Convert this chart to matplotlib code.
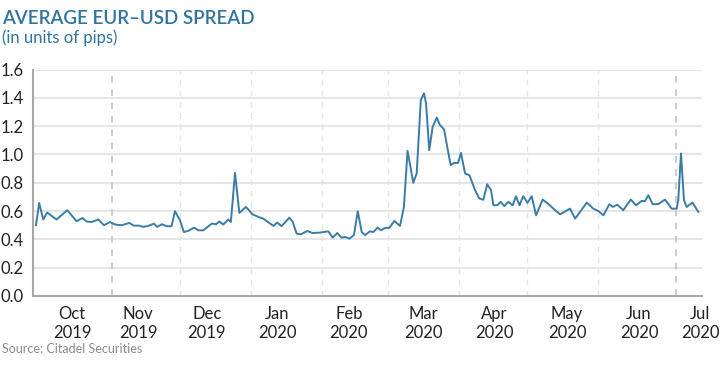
import numpy as np
import pandas as pd
import matplotlib.pyplot as plt
import matplotlib.transforms as mtransforms

# days since 2019-10-01 and spread values (pips)
days = [-2.3, -0.9, 0.9, 2.6, 6.7, 11.4, 15.5, 18.1, 19.9, 22.1, 25.0, 27.5, 30.1,
        32.3, 35.2, 38.6, 40.6, 42.9, 44.7, 46.9, 49.4, 50.8, 52.9, 55.0, 57.1,
        58.6, 60.8, 62.5, 64.4, 67.0, 68.8, 71.0, 74.7, 76.6, 78.0, 79.8, 81.9,
        83.1, 84.9, 86.8, 89.7, 92.6, 95.8, 97.3, 99.9, 101.7, 103.4, 105.3,
        108.7, 110.2, 111.9, 113.7, 116.6, 118.9, 122.1, 125.8, 127.7, 129.7,
        131.6, 133.1, 135.0, 137.0, 138.7, 140.4, 141.9, 144.0, 145.5, 147.4,
        148.9, 150.6, 152.5, 154.7, 157.2, 158.9, 160.5, 163.0, 164.5, 166.3,
        167.7, 168.6, 170.0, 171.5, 173.3, 174.7, 176.5, 177.6, 179.4, 180.8,
        182.6, 183.9, 185.7, 187.6, 190.1, 191.9, 193.7, 195.4, 197.1, 198.1,
        199.8, 201.3, 202.9, 204.6, 206.6, 208.0, 209.5, 211.2, 213.0, 214.9,
        216.8, 219.7, 222.2, 224.4, 227.3, 231.7, 233.9, 236.1, 239.0, 241.9,
        244.1, 246.3, 248.9, 250.4, 252.4, 255.0, 258.3, 260.6, 263.1, 264.5,
        266.0, 267.9, 270.4, 273.3, 276.2, 278.4, 279.1, 280.3, 281.6, 282.8,
        285.3, 287.9]
spread = [0.50, 0.657, 0.54, 0.59, 0.54, 0.606, 0.528, 0.551, 0.526, 0.523, 0.54,
          0.50, 0.523, 0.505, 0.50, 0.516, 0.497, 0.497, 0.488, 0.495, 0.511,
          0.488, 0.507, 0.493, 0.493, 0.599, 0.535, 0.452, 0.46, 0.483, 0.464,
          0.464, 0.511, 0.507, 0.526, 0.505, 0.54, 0.523, 0.87, 0.587, 0.629,
          0.577, 0.554, 0.547, 0.516, 0.495, 0.519, 0.493, 0.554, 0.523, 0.441,
          0.436, 0.459, 0.445, 0.448, 0.457, 0.412, 0.445, 0.412, 0.417, 0.405,
          0.43, 0.599, 0.452, 0.43, 0.457, 0.452, 0.483, 0.464, 0.481, 0.481,
          0.53, 0.495, 0.629, 1.025, 0.80, 0.866, 1.384, 1.432, 1.36, 1.03,
          1.196, 1.26, 1.207, 1.177, 1.078, 0.924, 0.94, 0.94, 1.011, 0.866,
          0.853, 0.747, 0.689, 0.68, 0.79, 0.747, 0.641, 0.641, 0.665, 0.635,
          0.665, 0.641, 0.705, 0.641, 0.705, 0.658, 0.705, 0.57, 0.681, 0.65,
          0.617, 0.577, 0.617, 0.547, 0.594, 0.66, 0.617, 0.60, 0.57, 0.648,
          0.629, 0.645, 0.606, 0.681, 0.641, 0.672, 0.67, 0.712, 0.648, 0.65,
          0.681, 0.617, 0.617, 0.677, 1.007, 0.677, 0.629, 0.66, 0.594]

month_labels = ['Oct\n2019', 'Nov\n2019', 'Dec\n2019', 'Jan\n2020', 'Feb\n2020',
                'Mar\n2020', 'Apr\n2020', 'May\n2020', 'Jun\n2020', 'Jul\n2020']
month_label_days = [13.5, 42.4, 72.6, 103.3, 134.8, 167.3, 198.4, 230.4, 261.9, 288.6]
light_lines = ['2019-12-01', '2020-01-01', '2020-02-01', '2020-03-01',
               '2020-04-01', '2020-05-01', '2020-06-01']
dark_lines = ['2019-11-01', '2020-07-05']

base = pd.Timestamp('2019-10-01')
dates = base + pd.to_timedelta(days, unit='D')
label_dates = base + pd.to_timedelta(month_label_days, unit='D')

plt.rcParams['font.family'] = ['Lato', 'DejaVu Sans']
blue = '#3b7ca6'

fig = plt.figure(figsize=(7.2, 3.66), dpi=100)
ax = fig.add_axes([33 / 720, 1 - 296 / 366, 669 / 720, 226.5 / 366])

ax.set_ylim(0, 1.6)
ax.set_xlim(base + pd.Timedelta(days=-3.6), base + pd.Timedelta(days=289.5))
ax.set_yticks(np.arange(0, 1.61, 0.2))
ax.set_yticklabels([f'{v:.1f}' for v in np.arange(0, 1.61, 0.2)])
ax.yaxis.grid(True, color='#e2e2e2', lw=1.2)
ax.set_axisbelow(True)

for d in light_lines:
    ax.axvline(pd.Timestamp(d), color='#e4e4e4', lw=1, ls=(0, (4, 4)), zorder=1)
for d in dark_lines:
    ax.axvline(pd.Timestamp(d), color='#c4c4c4', lw=1.2, ls=(0, (4, 4)), zorder=1)

ax.plot(dates, spread, color=blue, lw=1.4, solid_joinstyle='round', zorder=3)

# month labels drawn as centred two-line texts below the axis
ax.set_xticks([])
trans = mtransforms.blended_transform_factory(ax.transData, ax.transAxes)
for d, lab in zip(label_dates, month_labels):
    ax.text(d, -0.045, lab, transform=trans, ha='center', va='top',
            multialignment='center', linespacing=1.25, fontsize=12,
            color='#222222', clip_on=False)

ax.tick_params(axis='y', length=0, labelsize=12, colors='#222222', pad=7)

for s in ['top', 'right']:
    ax.spines[s].set_visible(False)
for s in ['left', 'bottom']:
    ax.spines[s].set_color('#a8a8a8')
    ax.spines[s].set_linewidth(1.5)

fig.text(2 / 720, 1 - 10 / 366, 'AVERAGE EUR\u2013USD SPREAD', color='#2f73a0',
         fontsize=13.5, fontweight='semibold', va='top', ha='left')
fig.text(2 / 720, 1 - 29 / 366, '(in units of pips)', color='#2f73a0',
         fontsize=12, va='top', ha='left')
fig.text(2 / 720, 1 - 343 / 366, 'Source: Citadel Securities', color='#8a8a8a',
         fontsize=9, va='top', ha='left')

fig.savefig('out.png', dpi=100)
